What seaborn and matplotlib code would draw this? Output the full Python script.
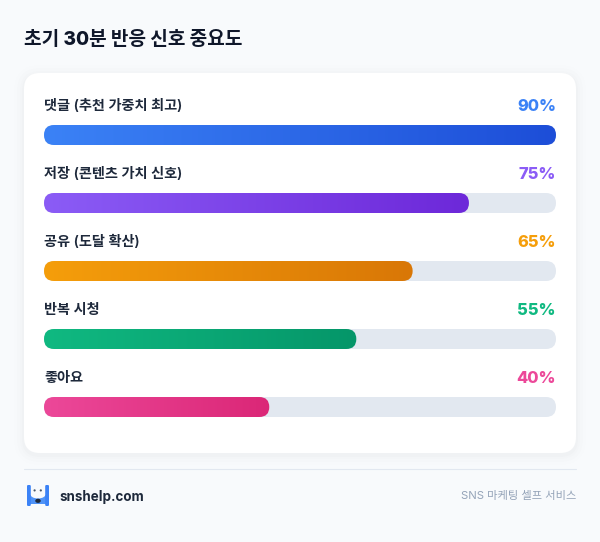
import numpy as np
import pandas as pd
import matplotlib
matplotlib.use("Agg")
import matplotlib.pyplot as plt
from matplotlib.patches import FancyBboxPatch, Rectangle, Ellipse
from matplotlib.transforms import IdentityTransform
from matplotlib.colors import LinearSegmentedColormap
import seaborn as sns

title = "초기 30분 반응 신호 중요도"
categories = ["댓글 (추천 가중치 최고)", "저장 (콘텐츠 가치 신호)", "공유 (도달 확산)", "반복 시청", "좋아요"]
importance = [90, 75, 65, 55, 40]
fill_widths = [100, 83, 72, 61, 44]
start_colors = ["#3b82f6", "#8b5cf6", "#f59e0b", "#10b981", "#ec4899"]
end_colors = ["#1d4ed8", "#6d28d9", "#d97706", "#059669", "#db2777"]
label_colors = ["#3b82f6", "#8b5cf6", "#f59e0b", "#10b981", "#ec4899"]
brand = "snshelp.com"
tagline = "SNS 마케팅 셀프 서비스"

W, H = 600, 542
KR = ["Inter", "Noto Sans CJK KR", "DejaVu Sans"]
sns.set_theme(style="white")
plt.rcParams["font.family"] = KR

fig = plt.figure(figsize=(W / 100, H / 100), dpi=100, facecolor="#f8fafc")

# page layer in pixel coordinates
page = fig.add_axes([0, 0, 1, 1], zorder=0)
page.set_xlim(0, W); page.set_ylim(H, 0); page.axis("off")
for grow, a in zip([10, 7, 4, 2], [0.005, 0.006, 0.008, 0.010]):
    page.add_patch(FancyBboxPatch((24 - grow, 73 - grow + 2), 552 + 2 * grow, 380 + 2 * grow,
                                  boxstyle=f"round,pad=0,rounding_size={16 + grow}",
                                  fc="#0f172a", ec="none", alpha=a))
page.add_patch(FancyBboxPatch((24, 73), 552, 380, boxstyle="round,pad=0,rounding_size=16", fc="white", ec="none"))
page.plot([24, 576], [469, 469], color="#e2e8f0", lw=0.8)
page.text(24, 40, title, fontsize=13.75, fontweight="heavy", color="#0f172a", va="center", ha="left")
page.text(59.5, 496.5, brand, fontsize=9.65, fontweight="bold", color="#1e293b", va="center", ha="left")
page.text(576, 496.5, tagline, fontsize=8.1, color="#94a3b8", va="center", ha="right")

# logo
logo = "#3b82f6"
page.add_patch(Rectangle((30, 495), 16, 9, fc="#4f93f7", ec="none"))
page.add_patch(Ellipse((38, 494), 15.5, 9, fc="#f8fafc", ec="none"))
page.add_patch(FancyBboxPatch((27, 485), 3.8, 21, boxstyle="round,pad=0,rounding_size=1.2", fc=logo, ec="none"))
page.add_patch(FancyBboxPatch((45.2, 485), 3.8, 21, boxstyle="round,pad=0,rounding_size=1.2", fc=logo, ec="none"))
page.add_patch(Ellipse((38, 500.8), 5.5, 4.2, fc="#1e293b", ec="none"))
page.add_patch(plt.Circle((34.6, 490.4), 1.1, fc="#475569", ec="none"))
page.add_patch(plt.Circle((40.8, 490.4), 1.1, fc="#475569", ec="none"))

# chart layer: one category step = 68 px
ax = fig.add_axes([44 / W, 1 - 441 / H, 512 / W, 340 / H], zorder=1)
ax.patch.set_alpha(0)
df = pd.DataFrame({"category": categories, "fill": fill_widths})
sns.barplot(data=df, y="category", x="fill", ax=ax, width=20 / 68, color="#3b82f6", saturation=1)
ax.set_xlim(0, 100)
ax.set_ylim(4.5, -0.5)
ax.axis("off")
fig.canvas.draw()

for i, bar in enumerate(ax.patches):
    x0, y0 = ax.transData.transform((0, bar.get_y() + bar.get_height()))
    x1, y1 = ax.transData.transform((bar.get_width(), bar.get_y()))
    xt, _ = ax.transData.transform((100, 0))
    h = y1 - y0
    ax.add_patch(FancyBboxPatch((x0, y0), xt - x0, h, boxstyle=f"round,pad=0,rounding_size={h / 2}",
                                fc="#e2e8f0", ec="none", transform=IdentityTransform(), zorder=1))
    clip = FancyBboxPatch((x0, y0), x1 - x0, h, boxstyle=f"round,pad=0,rounding_size={h / 2}",
                          fc="none", ec="none", transform=IdentityTransform(), zorder=1.5)
    ax.add_patch(clip)
    cmap = LinearSegmentedColormap.from_list(f"g{i}", [start_colors[i], end_colors[i]])
    im = ax.imshow(np.linspace(0, 1, 256).reshape(1, -1), cmap=cmap, aspect="auto", zorder=2,
                   extent=(0, bar.get_width(), bar.get_y() + bar.get_height(), bar.get_y()),
                   interpolation="bilinear")
    im.set_clip_path(clip)
    bar.set_visible(False)
    ax.text(0, i - 29 / 68, categories[i], fontsize=10.2, fontweight="semibold", color="#1e293b", va="center", ha="left")
    ax.text(100, i - 28.5 / 68, f"{importance[i]}%", fontsize=11.8, fontweight="heavy", color=label_colors[i], va="center", ha="right")
ax.set_xlim(0, 100)
ax.set_ylim(4.5, -0.5)
fig.savefig("out.png", dpi=100, facecolor=fig.get_facecolor())
